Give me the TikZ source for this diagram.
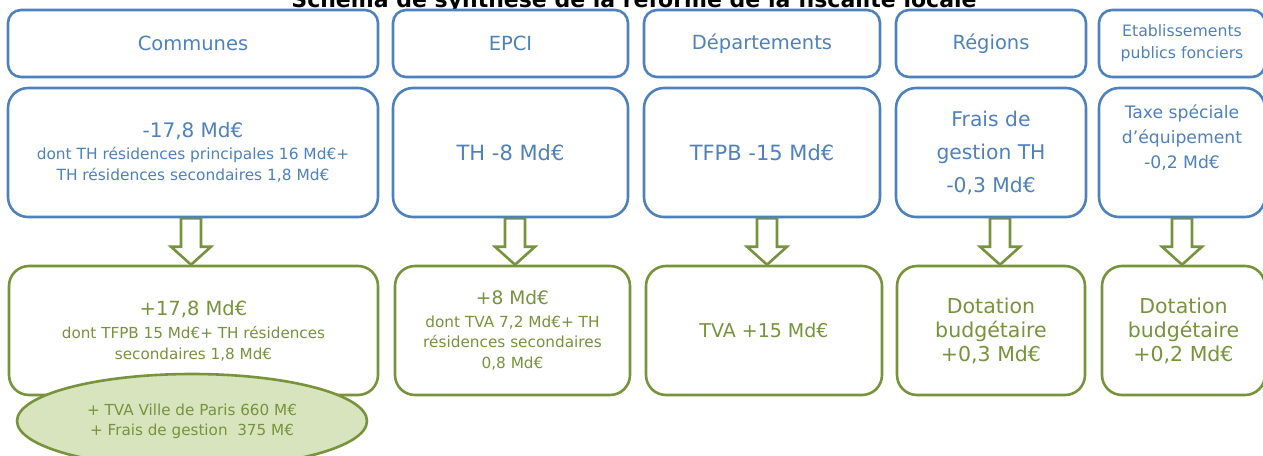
\documentclass[tikz,border=0pt]{standalone}
\usepackage{fontspec}
\setmainfont{DejaVu Sans}
\usetikzlibrary{calc,shapes.geometric,backgrounds}
\definecolor{bblue}{HTML}{4F81BD}
\definecolor{bgreen}{HTML}{77933C}
\definecolor{lgreen}{HTML}{D7E4BD}
\newcommand{\fsz}[2]{\fontsize{#1}{#2}\selectfont}
\newcommand{\blockarrow}[3]{%
  \draw[barrow] let \p1=(#1.south), \p2=(#2.north) in
    (#3pt-10pt,\y1) -- (#3pt-10pt,\y2+18pt) -- (#3pt-20pt,\y2+18pt) -- (#3pt,\y2)
    -- (#3pt+20pt,\y2+18pt) -- (#3pt+10pt,\y2+18pt) -- (#3pt+10pt,\y1) -- cycle;}
\begin{document}
\begin{tikzpicture}[x=1pt,y=-1pt,
  hbox/.style={draw=bblue, line width=2.6pt, rounded corners=13pt, fill=white, text=bblue, align=center, inner sep=0pt, minimum height=67pt},
  mbox/.style={draw=bblue, line width=2.6pt, rounded corners=20pt, fill=white, text=bblue, align=center, inner sep=0pt, minimum height=129pt},
  gbox/.style={draw=bgreen, line width=2.6pt, rounded corners=20pt, fill=white, text=bgreen, align=center, inner sep=0pt, minimum height=129pt},
  barrow/.style={draw=bgreen, line width=2.6pt, fill=white, line join=miter},
  oval/.style={ellipse, draw=bgreen, line width=2.6pt, fill=lgreen, text=bgreen, align=center, inner sep=0pt, minimum width=350pt, minimum height=94pt},
  ttl/.style={font=\bfseries\fsz{22}{26}, text=black, inner sep=0pt}
]
\useasboundingbox (0,0) rectangle (1263,455);
\clip (0,0) rectangle (1263,455);

% title (cut off at the top, as in the original)
\node[ttl, anchor=base] (title) at (634,8) {Schéma de synthèse de la réforme de la fiscalité locale};

% header row
\node[hbox, minimum width=370pt, font=\fsz{19.5}{24}] (h1) at (193,43.5) {Communes};
\node[hbox, minimum width=235pt, font=\fsz{19.5}{24}] (h2) at (510.5,43.5) {EPCI};
\node[hbox, minimum width=236pt, font=\fsz{19.5}{24}] (h3) at (762,43.5) {Départements};
\node[hbox, minimum width=190pt, font=\fsz{19.5}{24}] (h4) at (991,43.5) {Régions};
\node[hbox, minimum width=166pt, font=\fsz{15.7}{22}] (h5) at (1182,43.5) {Etablissements\\publics fonciers};

% middle row (losses)
\node[mbox, minimum width=370pt, font=\fsz{15.4}{21}] (m1) at (193,152.5)
  {{\fsz{20}{24}-17,8 Md€}\\[1pt]dont TH résidences principales 16 Md€+\\TH résidences secondaires 1,8 Md€};
\node[mbox, minimum width=235pt, font=\fsz{21}{25}] (m2) at (510.5,152.5) {TH -8 Md€};
\node[mbox, minimum width=236pt, font=\fsz{21}{25}] (m3) at (762,152.5) {TFPB -15 Md€};
\node[mbox, minimum width=190pt, font=\fsz{20.3}{33}] (m4) at (991,152.5) {Frais de\\gestion TH\\-0,3 Md€};
\node[mbox, minimum width=166pt, font=\fsz{17.2}{25}] (m5) at (1182,152.5)
  {\raisebox{14pt}[\height][\depth]{\begin{tabular}{@{}c@{}}Taxe spéciale\\d’équipement\\-0,2 Md€\end{tabular}}};

% bottom row (compensations)
\node[gbox, minimum width=369pt, font=\fsz{15.2}{21}] (b1) at (193.5,330.5)
  {{\fsz{19.5}{24}+17,8 Md€}\\[2pt]dont TFPB 15 Md€+ TH résidences\\secondaires 1,8 Md€};
\node[gbox, minimum width=235pt, font=\fsz{15.3}{20.5}] (b2) at (512.5,330.5)
  {{\fsz{18.6}{22}+8 Md€}\\[2pt]dont TVA 7,2 Md€+ TH\\résidences secondaires\\0,8 Md€};
\node[gbox, minimum width=236pt, font=\fsz{19}{24}] (b3) at (764,330.5) {TVA +15 Md€};
\node[gbox, minimum width=188pt, font=\fsz{20.5}{24}] (b4) at (991,330.5) {Dotation\\budgétaire\\+0,3 Md€};
\node[gbox, minimum width=163pt, font=\fsz{20.5}{24}] (b5) at (1183.5,330.5) {Dotation\\budgétaire\\+0,2 Md€};

% extra ellipse
\node[oval, font=\fsz{15.2}{20}] (e1) at (192,421) {+ TVA Ville de Paris 660 M€\\+ Frais de gestion\ \ 375 M€};

% block arrows
\begin{pgfonlayer}{background}
\blockarrow{m1}{b1}{191}
\blockarrow{m2}{b2}{515}
\blockarrow{m3}{b3}{767}
\blockarrow{m4}{b4}{1000}
\blockarrow{m5}{b5}{1182}
\end{pgfonlayer}
\end{tikzpicture}
\end{document}
